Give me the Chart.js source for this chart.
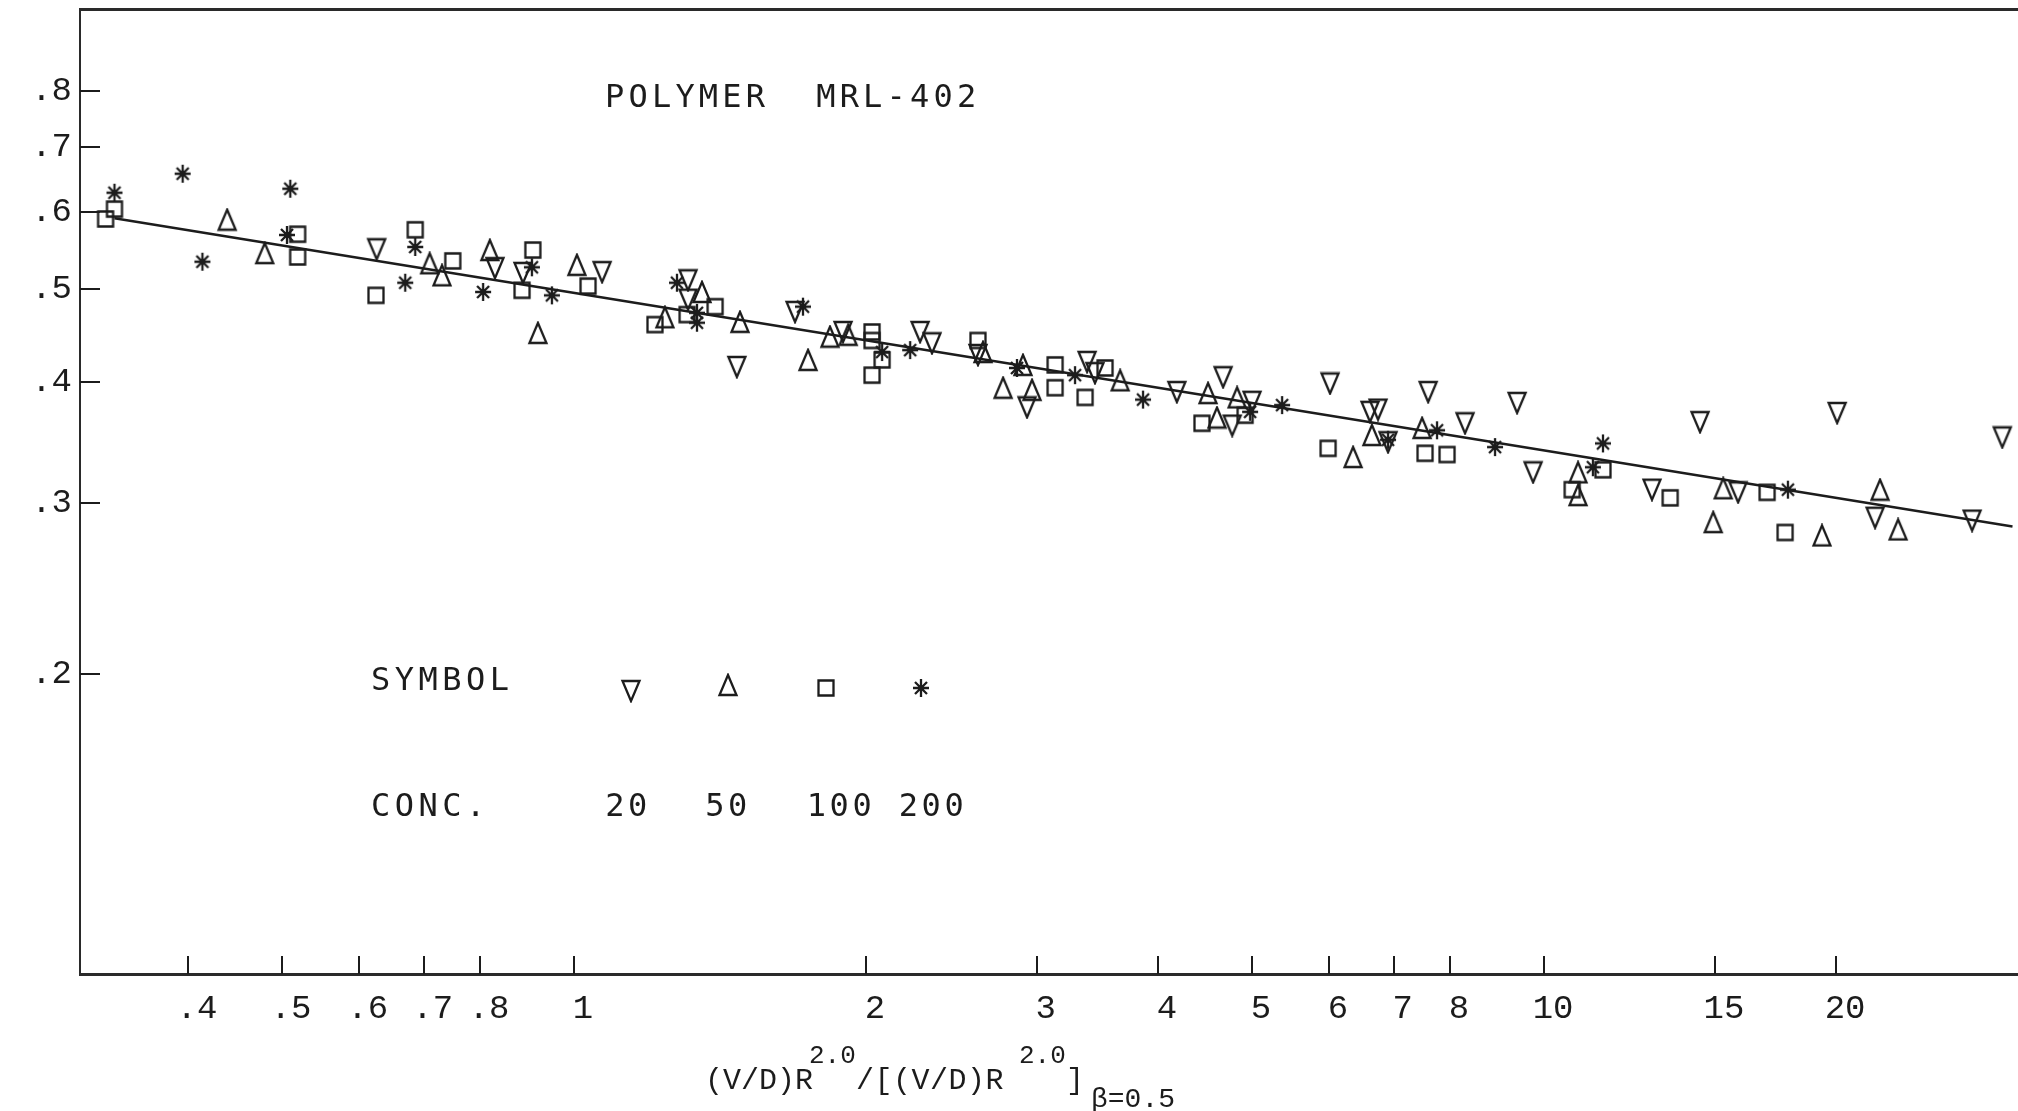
<!DOCTYPE html>
<html>
<head>
<meta charset="utf-8">
<title>Polymer MRL-402</title>
<script src="https://cdn.jsdelivr.net/npm/chart.js@4.4.1/dist/chart.umd.min.js"></script>
<style>
  html, body { margin: 0; padding: 0; background: #fff; }
  canvas { display: block; }
</style>
</head>
<body>
<canvas id="chart" width="2018" height="1111"></canvas>
<script>
const INK = "#1c1c1c";

const xTickValues = [0.4, 0.5, 0.6, 0.7, 0.8, 1, 2, 3, 4, 5, 6, 7, 8, 10, 15, 20];
const xTickLabels = [".4", ".5", ".6", ".7", ".8", "1", "2", "3", "4", "5", "6", "7", "8", "10", "15", "20"];
const yTickValues = [0.2, 0.3, 0.4, 0.5, 0.6, 0.7, 0.8];
const yTickLabels = [".2", ".3", ".4", ".5", ".6", ".7", ".8"];
const concLabels = ["20", "50", "100", "200"];

// conc 20 (down triangle)
const conc20X = [0.626, 0.829, 0.886, 1.069, 1.311, 1.311, 1.472, 1.690, 1.894, 2.274, 2.339, 2.609,
  2.931, 3.380, 3.444, 4.183, 4.668, 5.00, 4.770, 6.017, 6.616, 6.743, 6.905, 7.595, 8.289, 9.380,
  9.743, 12.92, 14.48, 15.85, 20.05, 21.94, 27.62, 29.67];
const conc20Y = [0.549, 0.525, 0.519, 0.520, 0.510, 0.487, 0.415, 0.473, 0.451, 0.451, 0.439, 0.427,
  0.377, 0.420, 0.409, 0.391, 0.405, 0.382, 0.361, 0.399, 0.373, 0.375, 0.347, 0.391, 0.363, 0.381,
  0.323, 0.310, 0.364, 0.308, 0.372, 0.290, 0.288, 0.351];

// conc 50 (up triangle)
const conc50X = [0.439, 0.480, 0.710, 0.731, 0.819, 0.918, 1.007, 1.241, 1.355, 1.483, 1.743, 1.836,
  1.917, 2.640, 2.769, 2.903, 2.966, 3.656, 4.504, 4.826, 4.601, 6.355, 6.646, 7.486, 10.84, 10.84,
  14.94, 15.30, 19.34, 22.20, 23.17];
const conc50Y = [0.589, 0.544, 0.531, 0.516, 0.548, 0.450, 0.529, 0.467, 0.496, 0.462, 0.422, 0.446,
  0.448, 0.430, 0.395, 0.417, 0.393, 0.402, 0.390, 0.386, 0.368, 0.335, 0.353, 0.359, 0.323, 0.306,
  0.287, 0.311, 0.278, 0.310, 0.282];

// conc 100 (square)
const conc100X = [0.329, 0.336, 0.519, 0.519, 0.625, 0.686, 0.750, 0.884, 0.907, 1.034, 1.212, 1.308,
  1.398, 2.029, 2.029, 2.078, 2.029, 2.609, 3.133, 3.133, 3.364, 3.527, 4.440, 4.918, 5.989, 7.539,
  7.943, 10.69, 11.50, 13.49, 16.98, 17.72];
const conc100Y = [0.590, 0.604, 0.569, 0.539, 0.492, 0.575, 0.534, 0.498, 0.548, 0.503, 0.459, 0.470,
  0.479, 0.451, 0.442, 0.422, 0.407, 0.442, 0.417, 0.395, 0.386, 0.414, 0.363, 0.370, 0.342, 0.338,
  0.337, 0.310, 0.325, 0.304, 0.308, 0.280];

// conc 200 (asterisk)
const conc200X = [0.336, 0.395, 0.414, 0.510, 0.506, 0.686, 0.670, 0.806, 0.905, 0.949, 1.277, 1.339,
  1.339, 1.722, 2.078, 2.221, 2.862, 3.285, 3.860, 4.977, 5.370, 6.905, 7.757, 8.902, 11.23, 11.50, 17.84];
const conc200Y = [0.628, 0.657, 0.533, 0.634, 0.568, 0.552, 0.507, 0.496, 0.526, 0.492, 0.507, 0.472,
  0.461, 0.479, 0.430, 0.432, 0.414, 0.407, 0.384, 0.373, 0.379, 0.349, 0.357, 0.343, 0.327, 0.346, 0.310];

// fitted line end points
const fitX = [0.336, 30.4];
const fitY = [0.591, 0.284];

function toPoints(xs, ys) {
  return xs.map((x, i) => ({ x: x, y: ys[i] }));
}

// plotter-style open symbols
function symbol(kind) {
  const c = document.createElement("canvas");
  c.width = 24;
  c.height = 24;
  const g = c.getContext("2d");
  g.strokeStyle = INK;
  g.lineWidth = 2.3;
  g.beginPath();
  if (kind === "down") {
    g.moveTo(3.5, 2); g.lineTo(20.5, 2); g.lineTo(12, 22); g.closePath();
  } else if (kind === "up") {
    g.moveTo(12, 2); g.lineTo(20.5, 22); g.lineTo(3.5, 22); g.closePath();
  } else if (kind === "square") {
    g.rect(4.5, 4.5, 15, 15);
  } else {
    g.moveTo(12, 3); g.lineTo(12, 21);
    g.moveTo(4, 12); g.lineTo(20, 12);
    g.moveTo(6, 6); g.lineTo(18, 18);
    g.moveTo(18, 6); g.lineTo(6, 18);
  }
  g.stroke();
  return c;
}

const symbols = [symbol("down"), symbol("up"), symbol("square"), symbol("star")];

function text(ctx, str, x, y, font, spacing, align) {
  ctx.font = font;
  ctx.letterSpacing = (spacing || 0) + "px";
  ctx.textAlign = align || "left";
  ctx.textBaseline = "alphabetic";
  ctx.fillText(str, x, y);
}

const decor = {
  id: "decor",
  afterDraw(chart) {
    const { ctx, chartArea, scales } = chart;
    ctx.save();
    ctx.strokeStyle = INK;
    ctx.fillStyle = INK;
    ctx.lineWidth = 2;

    // inward tick marks
    xTickValues.forEach(v => {
      const px = Math.round(scales.x.getPixelForValue(v));
      ctx.beginPath();
      ctx.moveTo(px, chartArea.bottom);
      ctx.lineTo(px, chartArea.bottom - 18);
      ctx.stroke();
    });
    yTickValues.forEach(v => {
      const py = Math.round(scales.y.getPixelForValue(v));
      ctx.beginPath();
      ctx.moveTo(chartArea.left, py);
      ctx.lineTo(chartArea.left + 20, py);
      ctx.stroke();
    });

    const sans = "32px 'DejaVu Sans Mono'";
    text(ctx, "POLYMER  MRL-402", 605, 107, sans, 4.2);

    // legend
    text(ctx, "SYMBOL", 371, 690, sans, 4.5);
    text(ctx, "CONC.", 371, 816, sans, 4.5);
    const symX = [631, 728, 826, 921];
    const symY = [691, 685, 688, 688];
    const numX = [628, 728, 841, 933];
    symbols.forEach((s, i) => {
      ctx.drawImage(s, symX[i] - 12, symY[i] - 12);
      text(ctx, concLabels[i], numX[i], 816, sans, 3.5, "center");
    });

    // axis title with super/subscripts
    const mono = "30px 'Liberation Mono'";
    const small = "26px 'Liberation Mono'";
    text(ctx, "(V/D)R", 705, 1089, mono, 0);
    text(ctx, "2.0", 809, 1063, small, 0);
    text(ctx, "/[(V/D)R", 856, 1089, mono, 0.5);
    text(ctx, "2.0", 1019, 1063, small, 0);
    text(ctx, "]", 1066, 1089, mono, 0);
    text(ctx, "\u03B2=0.5", 1091, 1107, "28px 'Liberation Mono'", 0);
    ctx.restore();
  },
};

const tickFont = { family: "'Liberation Mono'", size: 34 };

new Chart(document.getElementById("chart"), {
  type: "scatter",
  data: {
    datasets: [
      { label: concLabels[0], data: toPoints(conc20X, conc20Y), pointStyle: symbols[0], pointRadius: 9 },
      { label: concLabels[1], data: toPoints(conc50X, conc50Y), pointStyle: symbols[1], pointRadius: 9 },
      { label: concLabels[2], data: toPoints(conc100X, conc100Y), pointStyle: symbols[2], pointRadius: 9 },
      { label: concLabels[3], data: toPoints(conc200X, conc200Y), pointStyle: symbols[3], pointRadius: 9 },
      {
        label: "fit",
        data: toPoints(fitX, fitY),
        showLine: true,
        borderColor: INK,
        borderWidth: 2.5,
        pointRadius: 0,
      },
    ],
  },
  options: {
    responsive: false,
    animation: false,
    devicePixelRatio: 1,
    events: [],
    layout: { padding: 0, autoPadding: false },
    plugins: {
      legend: { display: false },
      tooltip: { enabled: false },
    },
    scales: {
      x: {
        type: "logarithmic",
        position: "bottom",
        bounds: "data",
        min: 0.3096,
        max: 30.8,
        afterBuildTicks: s => { s.ticks = xTickValues.map(v => ({ value: v })); },
        afterFit: s => { s.height = 137; s.paddingLeft = 0; s.paddingRight = 0; },
        grid: { display: false, drawTicks: false },
        border: { display: true, color: "#2a2a2a", width: 3 },
        ticks: {
          autoSkip: false,
          maxRotation: 0,
          padding: 15,
          labelOffset: 9,
          color: INK,
          font: tickFont,
          callback: v => xTickLabels[xTickValues.indexOf(v)],
        },
      },
      x2: {
        type: "logarithmic",
        position: "top",
        bounds: "data",
        min: 0.3096,
        max: 30.8,
        afterFit: s => { s.height = 9; s.paddingLeft = 0; s.paddingRight = 0; },
        grid: { display: false, drawTicks: false },
        border: { display: true, color: "#2a2a2a", width: 3 },
        ticks: { display: false },
      },
      y: {
        type: "logarithmic",
        position: "left",
        bounds: "data",
        min: 0.098,
        max: 0.972,
        afterBuildTicks: s => { s.ticks = yTickValues.map(v => ({ value: v })); },
        afterFit: s => { s.width = 80; s.paddingTop = 0; s.paddingBottom = 0; },
        grid: { display: false, drawTicks: false },
        border: { display: true, color: "#2a2a2a", width: 2 },
        ticks: {
          padding: 8,
          color: INK,
          font: tickFont,
          callback: v => yTickLabels[yTickValues.indexOf(v)],
        },
      },
    },
  },
  plugins: [decor],
});
</script>
</body>
</html>
